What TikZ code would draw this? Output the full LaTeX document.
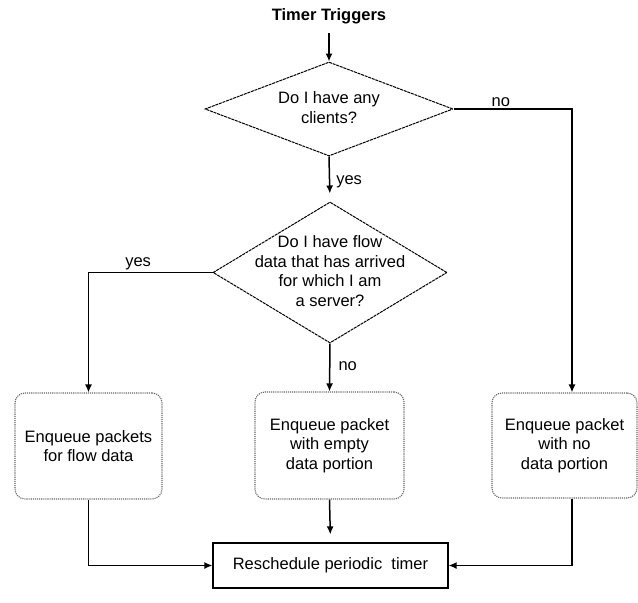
\documentclass[tikz,border=0pt]{standalone}
\usepackage{fontspec}
\setmainfont{Liberation Sans}
\usetikzlibrary{shapes.geometric,arrows.meta}
\newcommand\ztext[1]{\makebox[0pt]{\raisebox{-5pt}[0pt][0pt]{\begin{tabular}{@{}c@{}}#1\end{tabular}}}}
\begin{document}
\begin{tikzpicture}[x=1pt,y=-1pt,
  every node/.style={font=\fontsize{16.5}{19.5}\selectfont},
  dia/.style={shape=diamond, draw=black, line width=1pt, dash pattern=on 3pt off 0.8pt, inner sep=0pt},
  rbox/.style={draw=black!60, densely dotted, line width=1.1pt, rounded corners=10pt, align=center, inner sep=0pt},
  sbox/.style={draw=black, line width=1.2pt, inner sep=0pt},
  arr/.style={draw=black, line width=1.5pt, -{Latex[length=8pt,width=7pt]}},
  lab/.style={inner sep=2pt}
]
\fill[white] (0,0) rectangle (638,603);
\useasboundingbox (0,0) rectangle (638,603);

\node[font=\fontsize{16.5}{19.5}\selectfont\bfseries] (tt) at (329,16) {Timer Triggers};
\node[dia, minimum width=248pt, minimum height=94pt] (d1) at (329,109) {\ztext{Do I have any\\clients?}};
\node[dia, minimum width=234pt, minimum height=141pt] (d2) at (330,272.5) {\ztext{Do I have flow\\data that has arrived\\for which I am\\ a server?}};
\node[rbox, minimum width=147pt, minimum height=106pt] (b1) at (88.5,446) {Enqueue packets\\for flow data};
\node[rbox, minimum width=149pt, minimum height=107pt] (b2) at (329.5,445.5) {Enqueue packet\\with empty\\data portion};
\node[rbox, minimum width=145pt, minimum height=105pt] (b3) at (564.5,445.5) {Enqueue packet\\with no\\data portion};
\node[sbox, minimum width=235pt, minimum height=45pt] (rs) at (330.5,565.5) {Reschedule periodic\ \ timer};

\coordinate (b3in) at ([xshift=7.5pt]b3.north);
\coordinate (b3out) at ([xshift=7.5pt]b3.south);

\draw[arr] ([yshift=-6pt]tt.south) -- (d1.north);
\draw[arr, shorten >=8pt] (d1.south) -- node[lab, anchor=west, pos=0.57, xshift=4pt] {yes} (d2.north);
\draw[arr] (d1.east) -| node[lab, anchor=south, pos=0.2] {no} (b3in);
\draw[arr] (d2.west) -| node[lab, anchor=south, pos=0.3] {yes} (b1.north);
\draw[arr] (d2.south) -- node[lab, anchor=west, pos=0.48, xshift=6pt] {no} (b2.north);
\draw[arr, shorten >=8pt] (b2.south) -- (rs.north);
\draw[arr] (b1.south) |- (rs.west);
\draw[arr] (b3out) |- (rs.east);
\end{tikzpicture}
\end{document}
